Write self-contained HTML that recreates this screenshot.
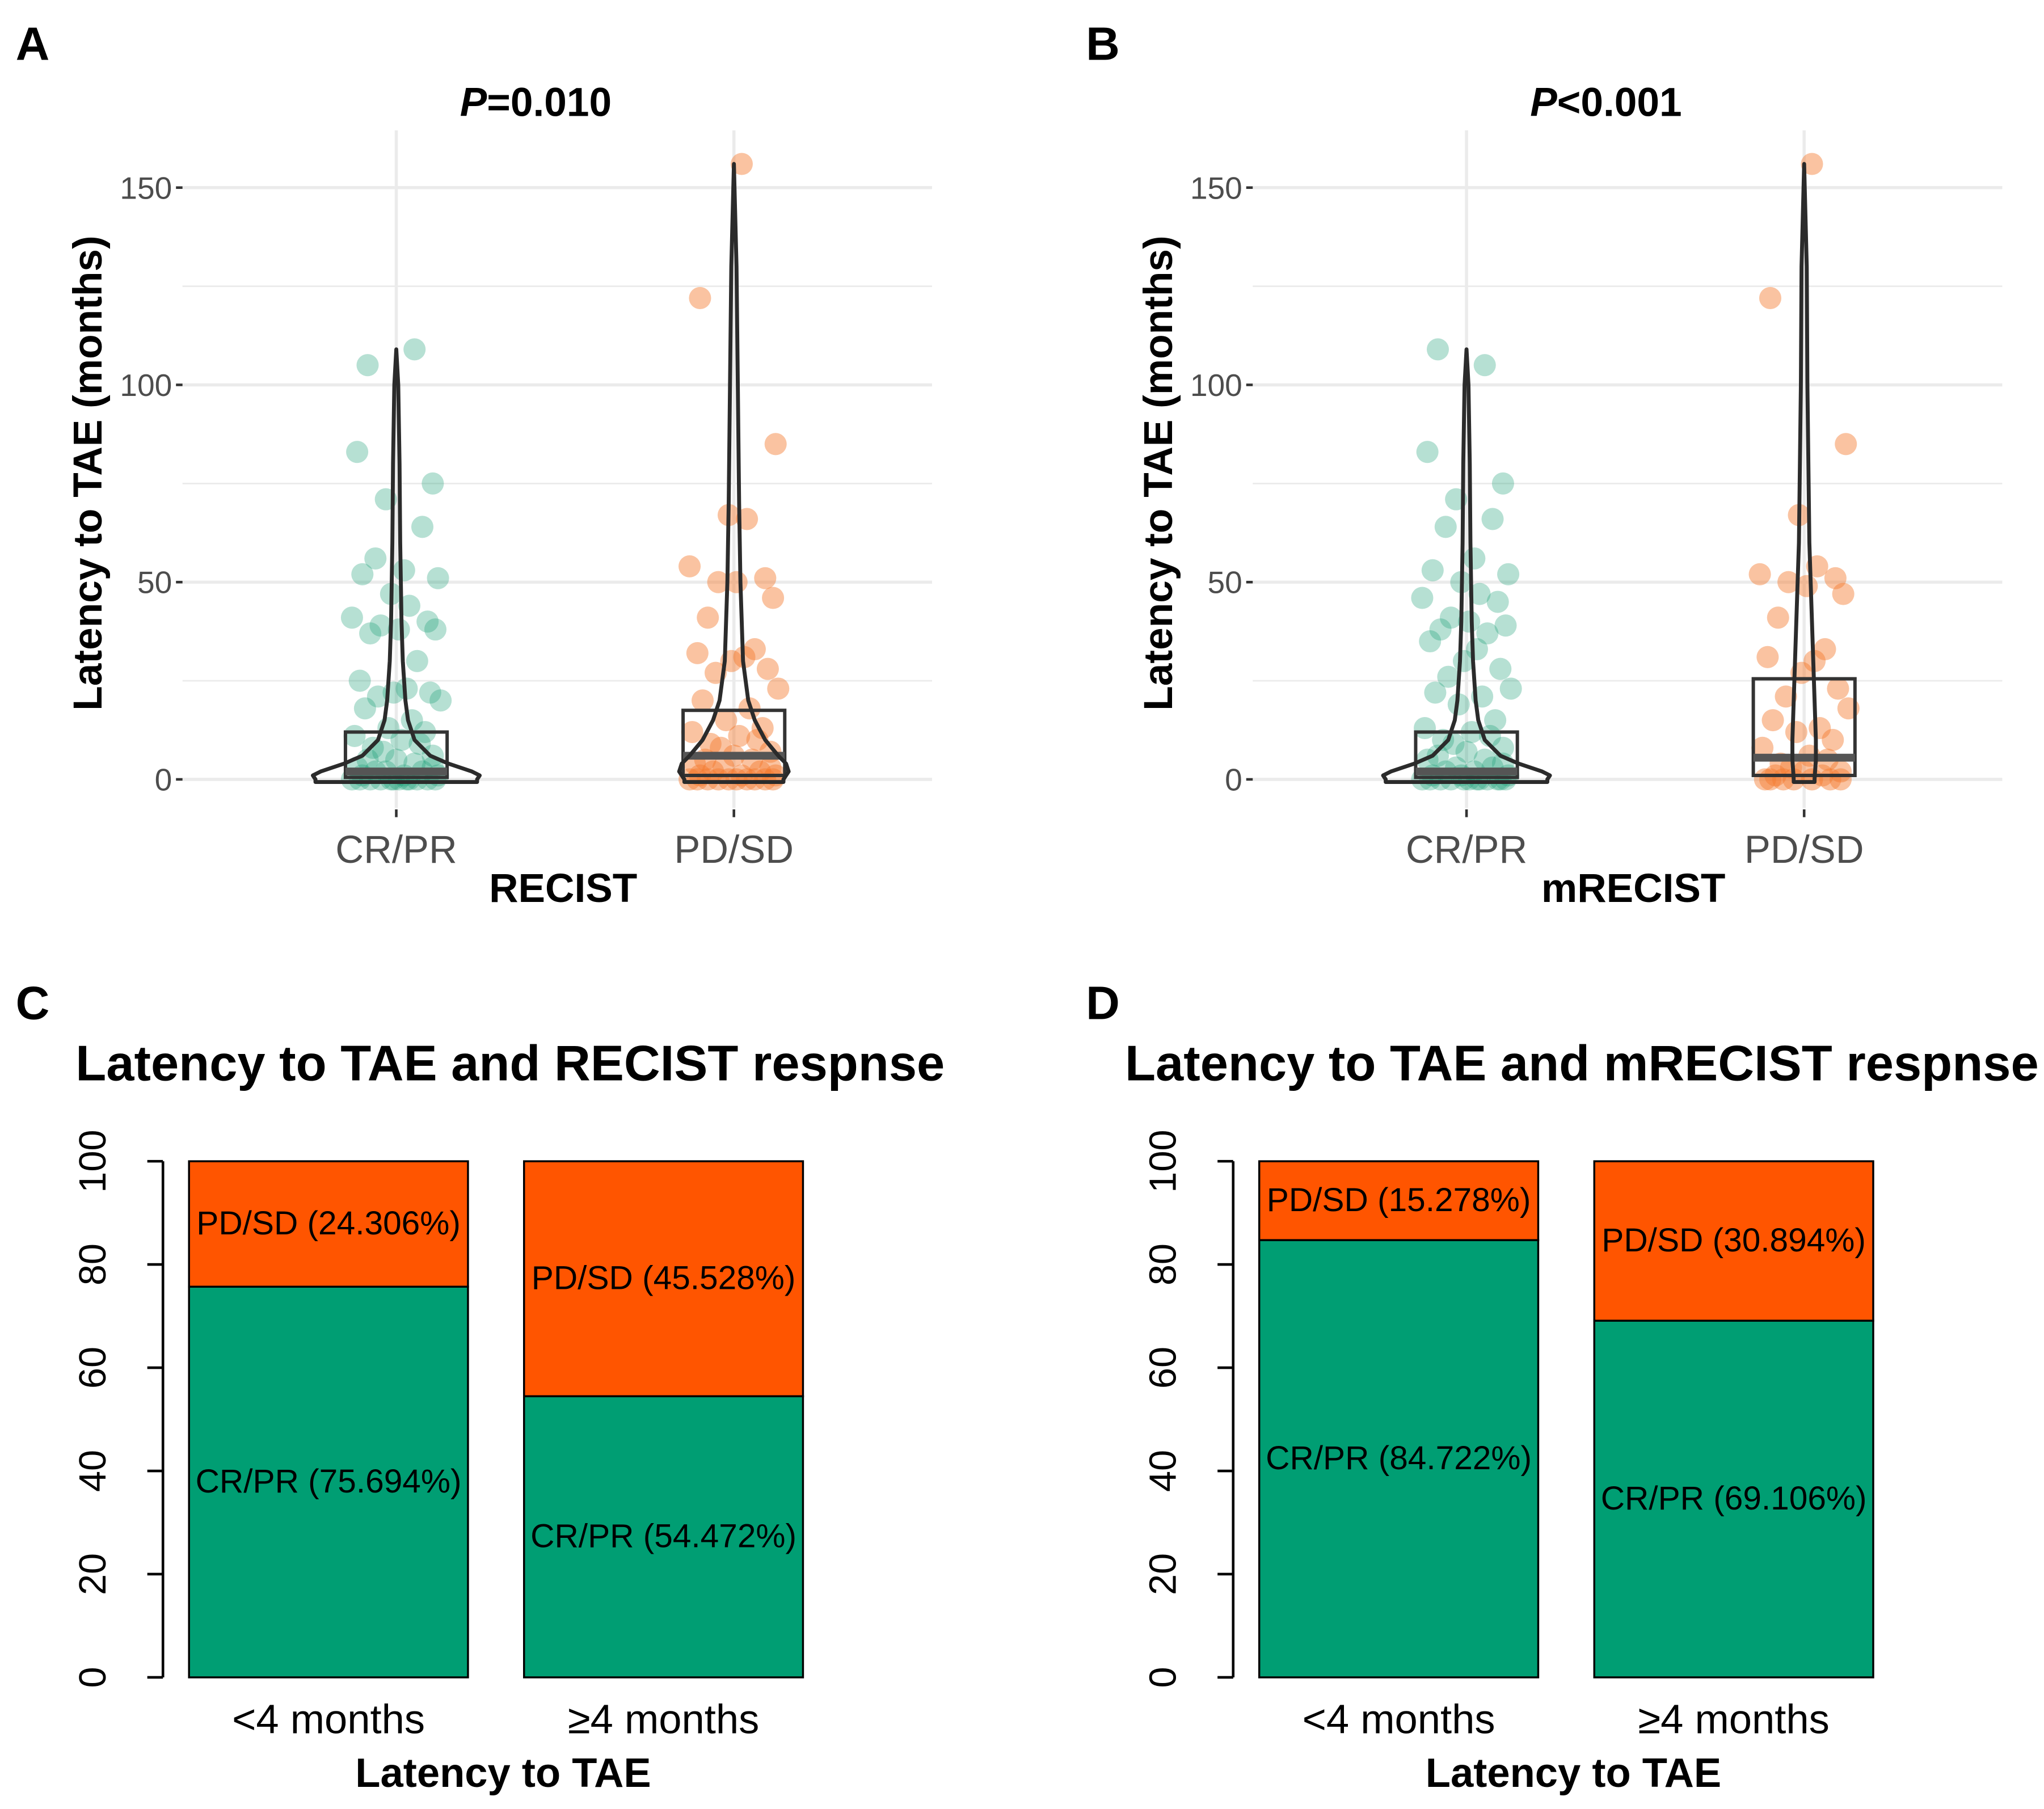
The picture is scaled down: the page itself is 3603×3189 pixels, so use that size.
<!DOCTYPE html>
<html><head><meta charset="utf-8"><style>
html,body{margin:0;padding:0;background:#fff}
svg{display:block}
text{font-family:"Liberation Sans",Arial,sans-serif}
</style></head><body>
<svg id="fig" width="3603" height="3189" viewBox="0 0 1568 1388" preserveAspectRatio="none" xmlns="http://www.w3.org/2000/svg">
<rect width="1568" height="1388" fill="#fff"/>
<g id="root"></g>
</svg>
<script>
// ---- data ----
const catsTop = ["CR/PR","PD/SD"];
const greenA = [105,109,83,75,71,64,56,53,52,51,47,44,41,40,39,38,38,37,30,25,23,22,22,21,20,18,15,13,12,11,10,9,8,7,6,5,5,4,3,3,2,2,2,1,1,1,0,0,0,0,0,0,0,0,0,0,0,0];
const orangeA = [156,122,85,67,66,54,51,50,50,46,41,33,32,31,30,28,27,23,20,18,15,13,12,11,10,9,8,7,6,5,5,4,3,3,2,2,1,1,1,0,0,0,0,0,0,0,0,0,0];
const greenB = [109,105,83,75,71,66,64,56,53,52,50,47,46,45,41,40,39,38,37,35,33,30,28,26,23,22,21,19,15,13,12,11,10,9,8,7,6,5,5,4,3,3,2,2,1,1,1,0,0,0,0,0,0,0,0,0,0,0,0];
const orangeB = [156,122,85,67,54,52,51,50,49,47,41,33,31,30,27,23,21,18,15,13,12,10,8,6,5,4,3,2,2,1,1,0,0,0,0,0,0,0];
const jitter = [-22,14,-30,28,-8,20,-16,6,-26,32,-4,10,-34,24,-12,2,30,-20,16,-28,8,-2,26,-14,34,-24,12,-6,22,-32,4,18,-18,-10,28,0];
const boxA = [[0.5,2,12],[1,6,17.5]];
const boxB = [[0.5,2,12],[1,5.5,25.5]];
const vY_cr = [0,1,2,4,6,10,15,20,30,40,60,80,100,109];
const vW_cr = [62,64,58,40,26,14,9,7,5,4,3,2.5,1.5,0];
const vY_pdA = [0,2,4,6,10,15,20,30,50,70,100,130,156];
const vW_pdA = [38,42,40,34,24,16,11,7,5,4,3,2,0];
const vY_pdB = [0,5,10,20,30,40,60,100,130,156];
const vW_pdB = [8,9,9,8,7,6,4,2.5,2,0];
const yTicksTop = [0,50,100,150];
const yMinorTop = [25,75,125];
const barCats = ["<4 months","≥4 months"];
const crprC = [75.694,54.472];
const pdsdC = [24.306,45.528];
const crprD = [84.722,69.106];
const pdsdD = [15.278,30.894];
const yTicksBar = [0,20,40,60,80,100];
const GREEN="#009E73", ORANGE="#FF5500";
const NS="http://www.w3.org/2000/svg";
const root=document.getElementById('root');
function mk(tag,attrs,parent,txt){const e=document.createElementNS(NS,tag);for(const k in attrs)e.setAttribute(k,attrs[k]);if(txt!==undefined)e.textContent=txt;(parent||root).appendChild(e);return e;}

function topPanel(ox, title, xtitle, green, orange, boxes, vprofiles, letter){
  const g=mk('g',{});
  
  
  const y=v=>598-v*3.027;
  const xs=[304+ox,563+ox];
  const L=140+ox,R=715+ox;
  yMinorTop.forEach(v=>{const l=mk('line',{x1:L,x2:R,y1:y(v),y2:y(v),stroke:'#ebebeb','stroke-width':1.2},g);});
  yTicksTop.forEach(v=>{const l=mk('line',{x1:L,x2:R,y1:y(v),y2:y(v),stroke:'#ebebeb','stroke-width':2.4},g);});
  xs.forEach(x=>{const l=mk('line',{x1:x,x2:x,y1:100,y2:620,stroke:'#ebebeb','stroke-width':2.4},g);});
  yTicksTop.forEach(v=>{
    mk('line',{x1:135+ox,x2:140+ox,y1:y(v),y2:y(v),stroke:'#333','stroke-width':2},g);
    const t=mk('text',{x:132+ox,y:y(v)+8.5,'text-anchor':'end','font-size':24,fill:'#4d4d4d'},g,String(v));
    
  });
  xs.forEach((x,i)=>{
    mk('line',{x1:x,x2:x,y1:621,y2:627,stroke:'#333','stroke-width':2},g);
    const t=mk('text',{x:x,y:662,'text-anchor':'middle','font-size':30,fill:'#4d4d4d'},g,catsTop[i]);
    
  });
  [green,orange].forEach((arr,gi)=>{
    arr.forEach((v,i)=>{
      const c=mk('circle',{cx:xs[gi]+jitter[(i+gi*7)%jitter.length],cy:y(v),r:8.5,fill:gi?'#F57B2E':'#1B9E77','fill-opacity':gi?0.45:0.32},g);
      
    });
  });
  boxes.forEach((b,i)=>{
    const x=xs[i];
    const r=mk('rect',{x:x-39,y:y(b[2]),width:78,height:y(b[0])-y(b[2]),fill:'none',stroke:'#333','stroke-width':2.6},g);
    
    const m=mk('line',{x1:x-39,x2:x+39,y1:y(b[1]),y2:y(b[1]),stroke:'#555','stroke-width':6},g);
    
  });
  vprofiles.forEach((p,i)=>{
    const x=xs[i];const [vy,vw]=p;
    let d='M'+(x-vw[0])+','+(y(0)+2)+' L'+(x+vw[0])+','+(y(0)+2);
    for(let k=0;k<vy.length;k++)d+=' L'+(x+vw[k])+','+y(vy[k]);
    for(let k=vy.length-1;k>=0;k--)d+=' L'+(x-vw[k])+','+y(vy[k]);
    d+=' Z';
    const pth=mk('path',{d:d,fill:'none',stroke:'#2b2b2b','stroke-width':3,'stroke-linejoin':'round'},g);
    
  });
  const tt=mk('text',{x:411+ox,y:89,'text-anchor':'middle','font-size':31,'font-weight':'bold'},g);
  
  mk('tspan',{'font-style':'italic'},tt,'P');
  mk('tspan',{},tt,title);
  const xt=mk('text',{x:432+ox,y:692,'text-anchor':'middle','font-size':31,'font-weight':'bold'},g,xtitle);
  
  const yt=mk('text',{x:0,y:0,transform:`translate(${78+ox},363) rotate(-90)`,'text-anchor':'middle','font-size':31,'font-weight':'bold'},g,'Latency to TAE (months)');
  
  const lt=mk('text',{x:12+ox,y:46,'font-size':36,'font-weight':'bold'},g,letter);
  
}

function barPanel(ox, title, crpr, pdsd, letter, titleX){
  const g=mk('g',{});
  
  
  const y=v=>1287-v*3.96;
  const bx=[145+ox,402+ox];const bw=214;
  mk('line',{x1:125+ox,x2:125+ox,y1:y(0),y2:y(100),stroke:'#000','stroke-width':2},g);
  yTicksBar.forEach(v=>{
    mk('line',{x1:113+ox,x2:125+ox,y1:y(v),y2:y(v),stroke:'#000','stroke-width':2},g);
    const t=mk('text',{x:0,y:0,transform:`translate(${81+ox},${y(v)}) rotate(-90)`,'text-anchor':'middle','font-size':29},g,String(v));
    
  });
  crpr.forEach((v,i)=>{
    const r1=mk('rect',{x:bx[i],y:y(v),width:bw,height:y(0)-y(v),fill:GREEN,stroke:'#000','stroke-width':1.5},g);
    
    const r2=mk('rect',{x:bx[i],y:y(v+pdsd[i]),width:bw,height:y(v)-y(v+pdsd[i]),fill:ORANGE,stroke:'#000','stroke-width':1.5},g);
    
    const t1=mk('text',{x:bx[i]+bw/2,y:y(v/2)+8,'text-anchor':'middle','font-size':25.5},g,`CR/PR (${v.toFixed(3)}%)`);
    
    const t2=mk('text',{x:bx[i]+bw/2,y:y(v+pdsd[i]/2)+8,'text-anchor':'middle','font-size':25.5},g,`PD/SD (${pdsd[i].toFixed(3)}%)`);
    
    const xl=mk('text',{x:bx[i]+bw/2,y:1330,'text-anchor':'middle','font-size':31.5},g,barCats[i]);
    
  });
  const xt=mk('text',{x:386+ox,y:1371,'text-anchor':'middle','font-size':31.5,'font-weight':'bold'},g,'Latency to TAE');
  
  const tt=mk('text',{x:titleX,y:829,'font-size':38.5,'font-weight':'bold'},g,title);
  
  const lt=mk('text',{x:12+ox,y:782,'font-size':36,'font-weight':'bold'},g,letter);
  
}

topPanel(0,'=0.010','RECIST',greenA,orangeA,boxA,[[vY_cr,vW_cr],[vY_pdA,vW_pdA]],'A');
topPanel(821,'<0.001','mRECIST',greenB,orangeB,boxB,[[vY_cr,vW_cr],[vY_pdB,vW_pdB]],'B');
barPanel(0,'Latency to TAE and RECIST respnse',crprC,pdsdC,'C',58);
barPanel(821,'Latency to TAE and mRECIST respnse',crprD,pdsdD,'D',863);
</script>
</body></html>
